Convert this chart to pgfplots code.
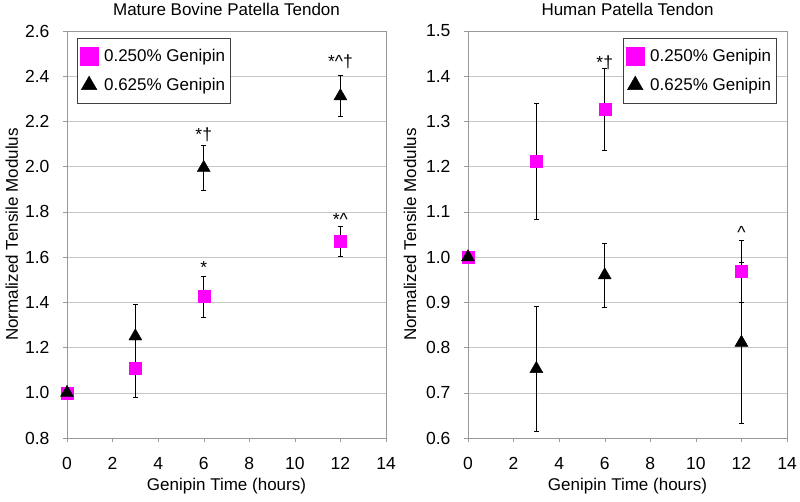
\documentclass[border=0pt]{standalone}
\usepackage{fontspec}
\setmainfont{Liberation Sans}
\usepackage{pgfplots}
\pgfplotsset{compat=1.18}
\definecolor{mag}{RGB}{255,0,255}

\tikzset{annot/.style={font=\fontsize{17.5}{19}\selectfont, anchor=center}}

\pgfplotsset{
  panel/.style={
    scale only axis, width=319pt, height=407pt,
    anchor=south west,
    xmin=0, xmax=14, xtick={0,2,...,14},
    axis line style={gray!80},
    tick align=outside, xtick pos=lower, ytick pos=lower,
    major tick length=4pt,
    tick style={gray!80, thin},
    ymajorgrids, grid style={gray!45, thin},
    /pgf/number format/assume math mode=true,
    ticklabel style={font=\fontsize{17.5}{19}\selectfont},
    xticklabel style={yshift=-12pt},
    yticklabel style={xshift=-10pt, /pgf/number format/.cd, fixed, fixed zerofill, precision=1},
    label style={font=\fontsize{17}{19}\selectfont},
    title style={font=\fontsize{17}{19}\selectfont, at={(axis description cs:0.5,1)}, anchor=south, yshift=6pt},
    xlabel={Genipin Time (hours)},
    ylabel={Normalized Tensile Modulus},
    xlabel style={at={(axis description cs:0.5,-0.118)}, anchor=center},
    legend style={font=\fontsize{17}{19}\selectfont, draw=black!75, anchor=north west,
      row sep=11pt, column sep=4pt, inner xsep=3pt, inner ysep=9pt, cells={anchor=west}},
    legend cell align=left,
    error bars/error bar style={black, line width=0.7pt},
    error bars/error mark options={rotate=90, mark size=2.5pt, black, line width=0.7pt},
  },
  sq/.style={only marks, mark=square*, mark size=6pt, mag,
    mark options={draw=mag, fill=mag},
    error bars/y dir=both, error bars/y explicit},
  tri/.style={only marks, mark=triangle*, mark size=7.5pt, black,
    mark options={draw=black, fill=black},
    error bars/y dir=both, error bars/y explicit},
  biglegend/.style={legend image code/.code={\draw[##1, mark size=9pt] plot coordinates {(0.3cm,0cm)};}},
}

\begin{document}
\begin{tikzpicture}
\useasboundingbox (0,0) rectangle (800pt,501pt);

% left panel: mature bovine patella tendon
\begin{axis}[panel, at={(67pt,63pt)},
  title={Mature Bovine Patella Tendon},
  ymin=0.8, ymax=2.6, ytick={0.8,1.0,...,2.6},
  ylabel style={at={(axis description cs:-0.173,0.5)}, anchor=center},
  legend style={at={(axis description cs:0.031,0.983)}},
]
\addplot+[sq, biglegend] table[x=t, y=m, y error=e] {
t m e
0 1.000 0
3 1.110 0.130
6 1.425 0.090
12 1.670 0.067
};
\addlegendentry{0.250\% Genipin}
\addplot+[tri, biglegend] table[x=t, y=m, y error=e] {
t m e
0 1.000 0
3 1.250 0.140
6 1.995 0.100
12 2.312 0.090
};
\addlegendentry{0.625\% Genipin}
\node[annot] at (axis cs:6,1.555) {*};
\node[annot] at (axis cs:12,1.765) {*\textasciicircum};
\node[annot] at (axis cs:6,2.14) {*†};
\node[annot] at (axis cs:12,2.465) {*\textasciicircum†};
\end{axis}

% right panel: human patella tendon
\begin{axis}[panel, at={(468pt,63pt)},
  title={Human Patella Tendon},
  ymin=0.6, ymax=1.5, ytick={0.6,0.7,...,1.5},
  ylabel style={at={(axis description cs:-0.182,0.5)}, anchor=center},
  legend style={at={(axis description cs:0.486,0.983)}},
]
\addplot+[sq, biglegend] table[x=t, y=m, y error=e] {
t m e
0 1.000 0
3 1.212 0.128
6 1.327 0.090
12 0.969 0.068
};
\addlegendentry{0.250\% Genipin}
\addplot+[tri, biglegend] table[x=t, y=m, y error=e] {
t m e
0 1.000 0
3 0.753 0.138
6 0.960 0.070
12 0.811 0.178
};
\addlegendentry{0.625\% Genipin}
\node[annot] at (axis cs:6,1.43) {*†};
\node[annot] at (axis cs:12,1.055) {\textasciicircum};
\end{axis}
\end{tikzpicture}
\end{document}
